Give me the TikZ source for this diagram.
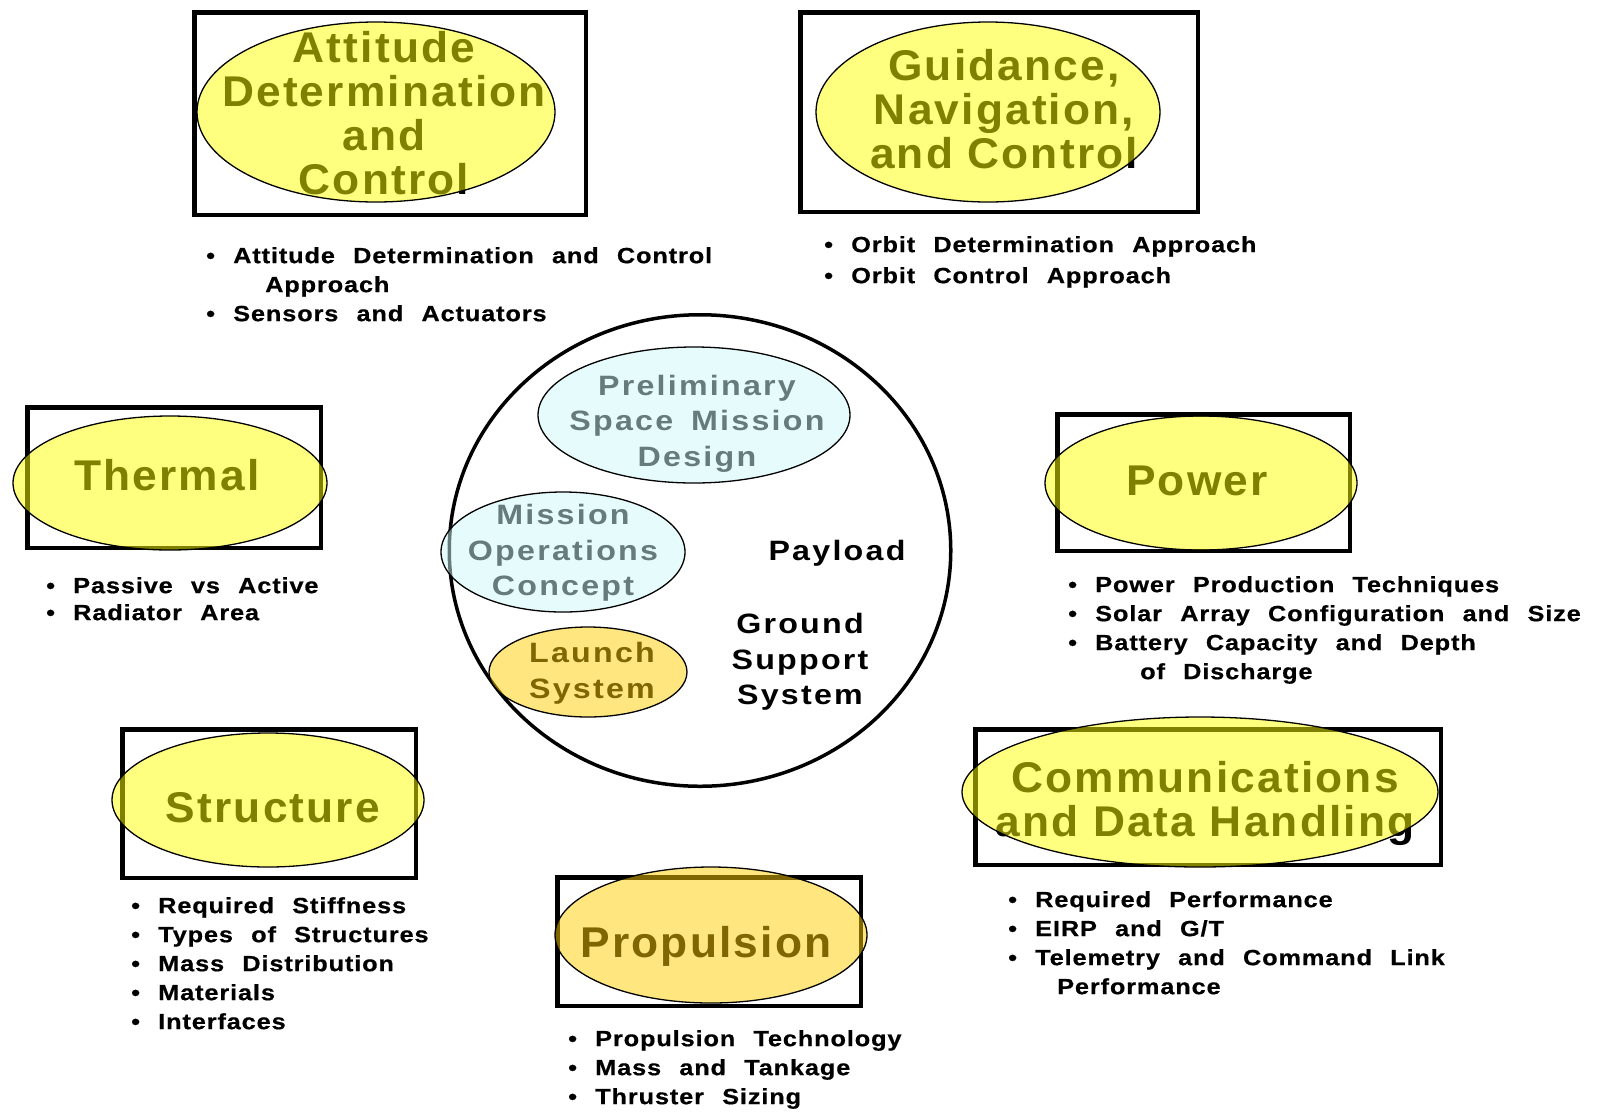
\documentclass[tikz,border=0pt]{standalone}
\usepackage{fontspec}
\newfontfamily\namefont[LetterSpace=5,FakeStretch=1.03]{Liberation Sans}
\newfontfamily\innerfont[LetterSpace=8,WordSpace=1.6,FakeStretch=1.15]{Liberation Sans}
\newfontfamily\notefont[LetterSpace=4,WordSpace=2.3,FakeStretch=1.15,FakeBold=0.6]{Liberation Sans}
\usetikzlibrary{shapes.geometric}

\definecolor{subyellow}{RGB}{255,255,0}
\definecolor{opsblue}{RGB}{205,248,248}
\definecolor{lvgold}{RGB}{255,205,0}

\tikzset{
  subbox/.style={draw, line width=4.5pt, inner sep=0pt},
  subell/.style={ellipse, draw, line width=1.3pt, fill=#1, fill opacity=0.5, inner sep=0pt},
  subname/.style={font=\namefont\bfseries\fontsize{43}{44}\selectfont, align=center, inner sep=0pt},
  innername/.style={font=\innerfont\bfseries\fontsize{28}{35.5}\selectfont, align=center, inner sep=0pt},
  notes/.style={font=\notefont\bfseries\fontsize{22}{29}\selectfont, align=left, inner sep=0pt, anchor=north west}
}

\begin{document}
\begin{tikzpicture}[x=1pt, y=-1pt]
\useasboundingbox (0,0) rectangle (1600,1112);

\node[subbox, minimum width=391.5pt, minimum height=202.5pt] (adcbox) at (390,113.5) {};
\node[subname, anchor=north] (adc) at (384,31) {Attitude\\Determination\\and\\Control};
\node[subell=subyellow, minimum width=358pt, minimum height=180pt] (adcell) at (376,112) {};
\node[notes] (adcnotes) at (206,247) {• Attitude Determination and Control\\\hspace*{59pt}Approach\\• Sensors and Actuators};

\node[subbox, minimum width=397.5pt, minimum height=199.5pt] (gncbox) at (999,112) {};
\node[subname, anchor=north] (gnc) at (1004,49) {Guidance,\\Navigation,\\and Control};
\node[subell=subyellow, minimum width=344pt, minimum height=180pt] (gncell) at (988,112) {};
\node[notes] (gncnotes) at (824,236) {• Orbit Determination Approach\\[2pt]• Orbit Control Approach};

\node[subbox, minimum width=293.5pt, minimum height=140.5pt] (thermbox) at (174,477.5) {};
\node[subname, anchor=base] (therm) at (167,490) {Thermal};
\node[subell=subyellow, minimum width=314pt, minimum height=134pt] (thermell) at (170,483) {};
\node[notes] (thermnotes) at (46,577) {• Passive vs Active\\[-2pt]• Radiator Area};

\node[draw, ellipse, line width=3.5pt, minimum width=501.5pt, minimum height=471.5pt] (design) at (700,550.5) {};
\node[innername, anchor=north] (prelim) at (697,375) {Preliminary\\Space Mission\\Design};
\node[innername, anchor=north] (ops) at (563,504) {Mission\\Operations\\Concept};
\node[innername, anchor=north] (launch) at (592,642) {Launch\\System};
\node[innername, anchor=base] (payload) at (837,560) {Payload};
\node[innername, anchor=north] (ground) at (800,613) {Ground\\Support\\System};
\node[subell=opsblue, minimum width=312pt, minimum height=136pt] (prelimell) at (694,415) {};
\node[subell=opsblue, minimum width=244pt, minimum height=120pt] (opsell) at (563,552) {};
\node[subell=lvgold, minimum width=198pt, minimum height=90pt] (launchell) at (588,672) {};

\node[subbox, minimum width=292.5pt, minimum height=136.5pt] (powbox) at (1203.5,482.5) {};
\node[subname, anchor=base] (pow) at (1197,495) {Power};
\node[subell=subyellow, minimum width=312pt, minimum height=134pt] (powell) at (1201,483) {};
\node[notes] (pownotes) at (1068,576) {• Power Production Techniques\\• Solar Array Configuration and Size\\• Battery Capacity and Depth\\\hspace*{72pt}of Discharge};

\node[subbox, minimum width=293.5pt, minimum height=148.5pt] (structbox) at (269,803.5) {};
\node[subname, anchor=base] (struct) at (273,822) {Structure};
\node[subell=subyellow, minimum width=312pt, minimum height=134pt] (structell) at (268,800) {};
\node[notes] (structnotes) at (131,897) {• Required Stiffness\\• Types of Structures\\• Mass Distribution\\• Materials\\• Interfaces};

\node[subbox, minimum width=303.5pt, minimum height=128.5pt] (propbox) at (709,941.5) {};
\node[subname, anchor=base] (prop) at (706,957) {Propulsion};
\node[subell=lvgold, minimum width=312pt, minimum height=136pt] (propell) at (711,935) {};
\node[notes] (propnotes) at (568,1030) {• Propulsion Technology\\• Mass and Tankage\\• Thruster Sizing};

\node[subbox, minimum width=465.5pt, minimum height=135.5pt] (commbox) at (1208,797) {};
\node[subname, anchor=north] (comm) at (1205,761) {Communications\\and Data Handling};
\node[subell=subyellow, minimum width=476pt, minimum height=150pt] (commell) at (1200,792) {};
\node[notes] (commnotes) at (1008,891) {• Required Performance\\• EIRP and G/T\\• Telemetry and Command Link\\\hspace*{49pt}Performance};
\end{tikzpicture}
\end{document}
